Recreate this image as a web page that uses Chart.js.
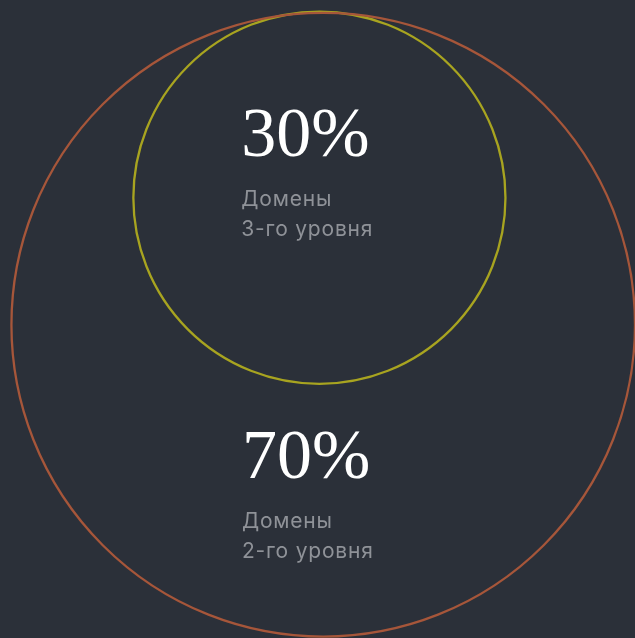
<!DOCTYPE html>
<html>
<head>
<meta charset="utf-8">
<script src="https://cdn.jsdelivr.net/npm/chart.js@4/dist/chart.umd.min.js"></script>
<style>
  html, body { margin: 0; padding: 0; background: #2b3039; }
  #wrap { width: 635px; height: 638px; }
</style>
</head>
<body>
<div id="wrap"><canvas id="chart" width="635" height="638"></canvas></div>
<script>
// domain levels and their share
var categories = ['Домены 3-го уровня', 'Домены 2-го уровня'];
var shares = [30, 70];
// circle centres and radii, in chart units (0..100 across, 0..100 down)
var centerX = [50.3, 50.9];
var centerY = [31.0, 50.9];
var circleR = [29.3, 49.1];
// where the caption of each circle starts
var labelX = [38.0, 38.1];
var labelY = [24.5, 74.95];

var lineColors = ['#a8a420', '#a6563a'];

var points = [];
for (let i = 0; i < categories.length; i++) {
  points.push({ x: centerX[i], y: centerY[i], r: 1 });
}

// draws the big percent and the caption next to each circle
const captions = {
  id: 'captions',
  afterDatasetsDraw(chart) {
    const ctx = chart.ctx;
    const xs = chart.scales.x, ys = chart.scales.y;
    ctx.save();
    ctx.textAlign = 'left';
    ctx.textBaseline = 'alphabetic';
    for (let i = 0; i < shares.length; i++) {
      const px = xs.getPixelForValue(labelX[i]);
      const py = ys.getPixelForValue(labelY[i]);
      ctx.fillStyle = '#ffffff';
      ctx.letterSpacing = '0px';
      ctx.font = '70px "Liberation Serif", serif';
      ctx.fillText(shares[i] + '%', px, py);
      const words = categories[i].split(' ');
      ctx.fillStyle = '#8f9298';
      ctx.letterSpacing = '0.8px';
      ctx.font = '21px Inter, "Noto Sans", sans-serif';
      ctx.fillText(words[0], px, py + 50);
      ctx.fillText(words.slice(1).join(' '), px, py + 80);
    }
    ctx.restore();
  }
};

const chart = new Chart(document.getElementById('chart'), {
  type: 'bubble',
  data: {
    datasets: [{
      data: points,
      backgroundColor: 'rgba(0,0,0,0)',
      borderColor: lineColors,
      borderWidth: 2.3,
      hoverBorderWidth: 2.3,
      clip: false
    }]
  },
  plugins: [captions],
  options: {
    responsive: false,
    animation: false,
    events: [],
    // big bubbles would otherwise shrink the plot area
    layout: { padding: 0, autoPadding: false },
    scales: {
      x: { type: 'linear', min: 0, max: 100, display: false },
      y: { type: 'linear', min: 0, max: 100, reverse: true, display: false }
    },
    plugins: {
      legend: { display: false },
      tooltip: { enabled: false }
    }
  }
});

// bubble radius is in pixels, so turn the radius in x units into pixels
const xs = chart.scales.x;
for (let i = 0; i < points.length; i++) {
  points[i].r = Math.abs(xs.getPixelForValue(circleR[i]) - xs.getPixelForValue(0));
}
chart.update();
</script>
</body>
</html>
